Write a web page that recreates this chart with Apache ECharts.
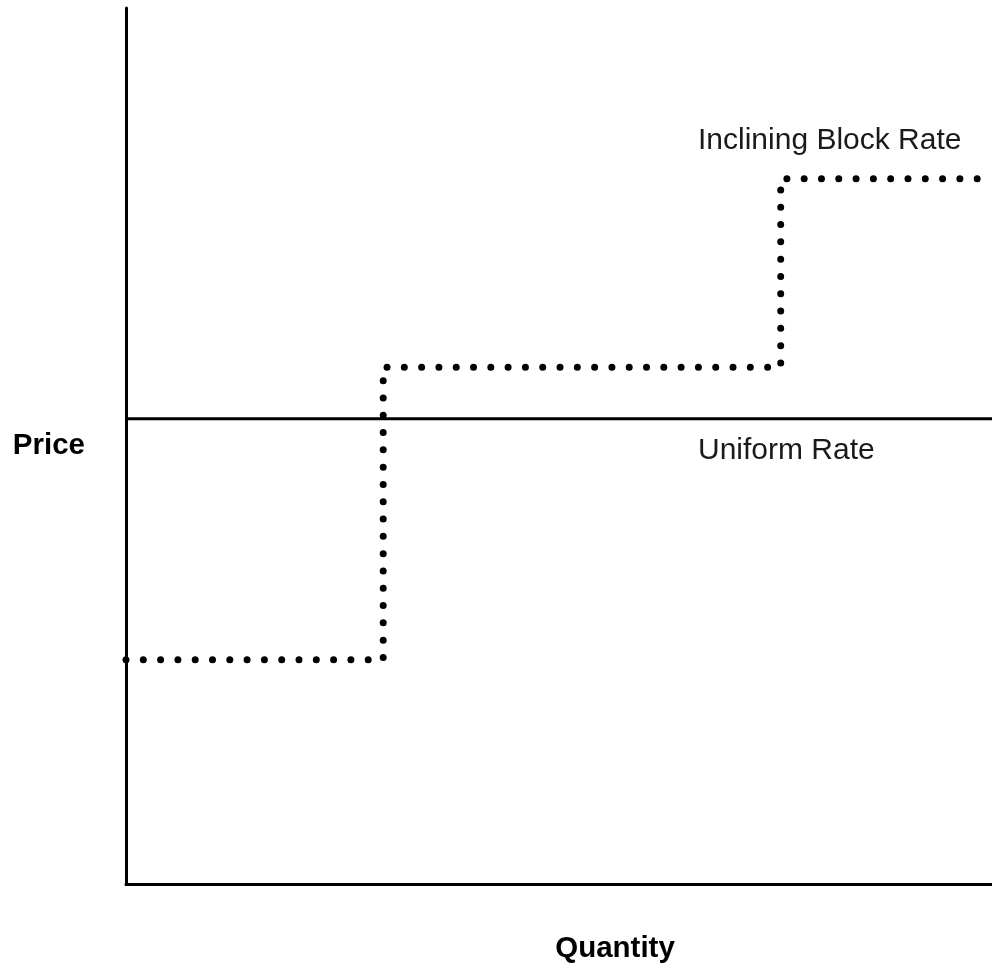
<!DOCTYPE html>
<html><head><meta charset="utf-8">
<script src="https://cdn.jsdelivr.net/npm/echarts@6/dist/echarts.min.js"></script>
<style>html,body{margin:0;padding:0;background:#fff}#c{width:992px;height:969px}</style>
</head><body><div id="c"></div>
<script>
// Inclining block rate steps: [quantity, price]
var blockQuantities = [0, 29.7, 29.7, 75.6, 75.6, 100];
var blockPrices = [25.6, 25.6, 59, 59, 80.5, 80.5];
// Uniform rate
var uniformQuantities = [0, 100];
var uniformPrices = [53.1, 53.1];
var labels = { x: 'Quantity', y: 'Price', block: 'Inclining Block Rate', uniform: 'Uniform Rate' };

var blockData = blockQuantities.map(function (q, i) { return [q, blockPrices[i]]; });
var uniformData = uniformQuantities.map(function (q, i) { return [q, uniformPrices[i]]; });

var chart = echarts.init(document.getElementById('c'), null, { renderer: 'canvas' });
var font = '"Liberation Sans", Arial, sans-serif';
chart.setOption({
  animation: false,
  grid: { left: 126, right: 0, top: 8, bottom: 85, containLabel: false, outerBoundsMode: 'none' },
  xAxis: {
    type: 'value', min: 0, max: 100,
    name: labels.x, nameLocation: 'middle', nameGap: 50,
    nameTextStyle: { fontFamily: font, fontSize: 29.5, fontWeight: 'bold', color: '#000', padding: [0, 0, 0, 112] },
    axisLine: { show: true, onZero: false, lineStyle: { color: '#000', width: 3 } },
    axisTick: { show: false }, axisLabel: { show: false }, splitLine: { show: false }
  },
  yAxis: {
    type: 'value', min: 0, max: 100,
    name: labels.y, nameLocation: 'middle', nameGap: 41, nameRotate: 0,
    nameTextStyle: { fontFamily: font, fontSize: 29.5, fontWeight: 'bold', color: '#000' },
    axisLine: { show: true, onZero: false, lineStyle: { color: '#000', width: 3 } },
    axisTick: { show: false }, axisLabel: { show: false }, splitLine: { show: false }
  },
  series: [
    {
      type: 'line', data: uniformData, symbol: 'none',
      lineStyle: { color: '#000', width: 3 }
    },
    {
      type: 'line', data: blockData, symbol: 'none',
      lineStyle: { color: '#000', width: 7, type: [0, 17.3], cap: 'round', join: 'round' }
    }
  ],
  graphic: [
    { type: 'text', left: 698, top: 126, style: { text: labels.block, font: '30px ' + font, fill: '#1a1a1a' } },
    { type: 'text', left: 698, top: 436, style: { text: labels.uniform, font: '30px ' + font, fill: '#1a1a1a' } }
  ]
});
</script></body></html>
